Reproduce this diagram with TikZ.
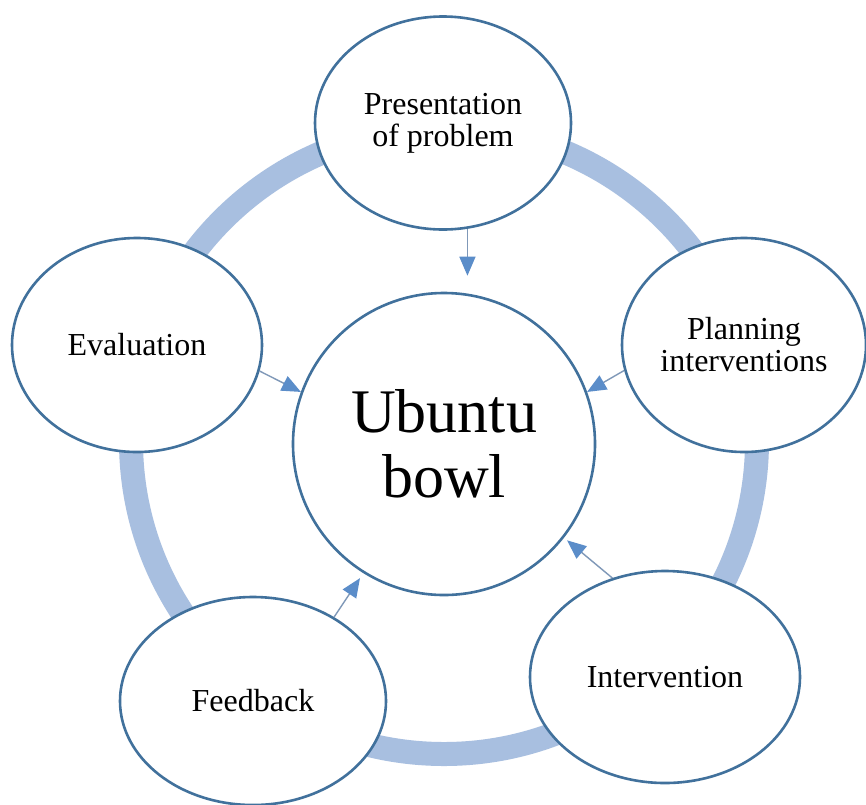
\documentclass[tikz,border=0pt]{standalone}
\usepackage{fontspec}
\setmainfont{Liberation Serif}
\usetikzlibrary{shapes.geometric,arrows.meta}
\definecolor{outline}{HTML}{41719C}
\definecolor{ringblue}{HTML}{A8BFE0}
\definecolor{shaftgray}{HTML}{7F98B8}
\definecolor{tipblue}{HTML}{5B8DC9}
\begin{document}
\begin{tikzpicture}[x=1pt,y=-1pt,
  stage/.style={ellipse, draw=outline, line width=2.6pt, fill=white, inner sep=0pt,
    align=center, font=\fontsize{32}{32}\selectfont},
  hubstyle/.style={circle, draw=outline, line width=2.6pt, fill=white, inner sep=0pt,
    minimum size=302pt, align=center, font=\fontsize{62}{65}\selectfont},
  feed/.style={shaftgray, line width=1.4pt, -{Triangle[length=19pt,width=16pt,color=tipblue]}},
  ring/.style={ringblue, line width=24pt}]
\useasboundingbox (0,0) rectangle (866,804);
\fill[white] (0,0) rectangle (866,804);

% the cycle ring behind all the stages
\draw[ring] (444,441) circle (313pt);

% centre
\node[hubstyle] (hub) at (444,444) {Ubuntu\\bowl};

% the five stages
\node[stage, minimum width=256pt, minimum height=213pt] (pres) at (443,123) {Presentation\\of problem};
\node[stage, minimum width=244pt, minimum height=214pt] (plan) at (744,345) {Planning\\interventions};
\node[stage, minimum width=270pt, minimum height=212pt] (interv) at (665,677) {Intervention};
\node[stage, minimum width=266pt, minimum height=208pt] (fb) at (253,701) {Feedback};
\node[stage, minimum width=250pt, minimum height=214pt] (eval) at (137,345) {Evaluation};

% links from each stage into the centre
\draw[feed, shorten >=16pt] (pres.-77) -- (pres.-77 |- hub.north);
\draw[feed] (plan.-168) -- (hub.20);
\draw[feed, shorten >=4pt] (interv.118) -- (hub.-38);
\draw[feed, shorten >=6pt] (fb.46) -- (hub.-122);
\draw[feed] (eval.-12) -- (hub.160);
\end{tikzpicture}
\end{document}
